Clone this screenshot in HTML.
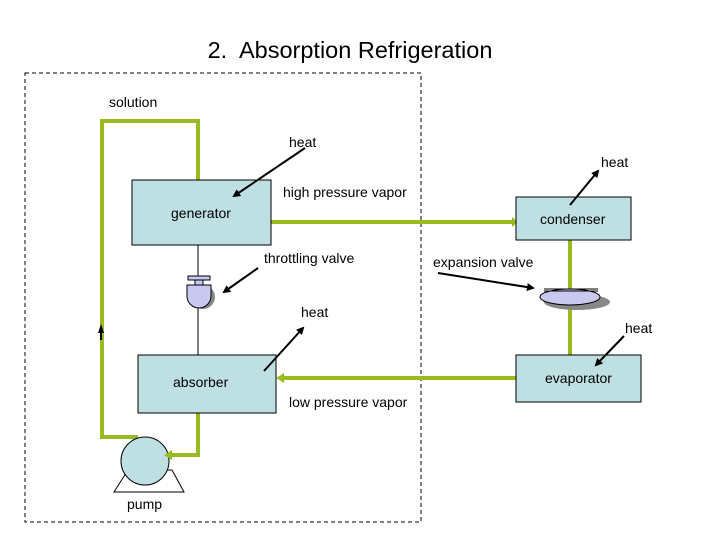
<!DOCTYPE html>
<html><head><style>
html,body{margin:0;padding:0;background:#fff;}
svg{display:block;}
text{font-family:"Liberation Sans",sans-serif;font-size:14px;fill:#000;}
</style></head><body>
<svg width="720" height="540" viewBox="0 0 720 540" xmlns="http://www.w3.org/2000/svg">
<defs>
<marker id="ah" markerWidth="8" markerHeight="8" refX="6" refY="4" orient="auto" markerUnits="userSpaceOnUse">
<path d="M0,0 L8,4 L0,8 z" fill="#000"/></marker>
</defs>
<text x="350" y="58" text-anchor="middle" style="font-size:23.5px">2.&#160; Absorption Refrigeration</text>
<rect x="25" y="73" width="396" height="449" fill="none" stroke="#000" stroke-dasharray="4,3" stroke-width="1"/>
<g stroke="#99bb22" stroke-width="4" fill="none">
<polyline points="198,182 198,121 102,121 102,437 138,437"/>
<line x1="271" y1="222" x2="512" y2="222"/>
<line x1="570" y1="240" x2="570" y2="355"/>
<line x1="516" y1="378" x2="282" y2="378"/>
<polyline points="198,413 198,455 168,455"/>
</g>
<path d="M512,217 L518,222 L512,227z" fill="#99bb22"/>
<path d="M276,378 L284,373 L284,383z" fill="#99bb22"/>
<line x1="198" y1="245" x2="198" y2="355" stroke="#000"/>
<path d="M101,324 L98,333 L104,333z" fill="#000"/>
<line x1="101" y1="333" x2="101" y2="340" stroke="#000" stroke-width="2"/>
<rect x="132" y="180" width="139" height="65" fill="#bfe0e3" stroke="#000"/>
<rect x="516" y="197" width="115" height="43" fill="#bfe0e3" stroke="#000"/>
<rect x="138" y="355" width="138" height="58" fill="#bfe0e3" stroke="#000"/>
<rect x="516" y="355" width="125" height="47" fill="#bfe0e3" stroke="#000"/>
<text x="171" y="218">generator</text>
<text x="540" y="224">condenser</text>
<text x="173" y="387">absorber</text>
<text x="545" y="383">evaporator</text>
<path d="M114,492 L128,470 L172,470 L184,492 z" fill="#fff" stroke="#000"/>
<circle cx="145" cy="461" r="24" fill="#bfe0e3" stroke="#000"/>
<path d="M164,455 L172,450 L172,460z" fill="#99bb22"/>
<text x="127" y="509">pump</text>
<ellipse cx="203" cy="297" rx="12" ry="12" fill="#888"/>
<path d="M187,285 L211,285 L211,296 A12,12 0 0 1 187,296 z" fill="#c8c8f0" stroke="#000"/>
<rect x="195" y="280" width="8" height="5" fill="#c8c8f0" stroke="#000"/>
<rect x="188" y="276" width="22" height="4" fill="#c8c8f0" stroke="#000"/>
<ellipse cx="577" cy="302" rx="33" ry="8" fill="#888"/>
<ellipse cx="570" cy="297" rx="30" ry="8" fill="#c8c8f0" stroke="#000"/>
<line x1="544" y1="289" x2="598" y2="289" stroke="#000"/>
<line x1="544" y1="291" x2="598" y2="291" stroke="#000"/>
<g stroke="#000" stroke-width="2" fill="none">
<line x1="305" y1="148" x2="234" y2="196" marker-end="url(#ah)"/>
<line x1="570" y1="205" x2="598" y2="171" marker-end="url(#ah)"/>
<line x1="258" y1="268" x2="224" y2="292" marker-end="url(#ah)"/>
<line x1="438" y1="273" x2="533" y2="288" marker-end="url(#ah)"/>
<line x1="264" y1="371" x2="303" y2="328" marker-end="url(#ah)"/>
<line x1="624" y1="336" x2="596" y2="365" marker-end="url(#ah)"/>
</g>
<text x="109" y="107">solution</text>
<text x="289" y="147">heat</text>
<text x="601" y="167">heat</text>
<text x="283" y="197">high pressure vapor</text>
<text x="264" y="263">throttling valve</text>
<text x="433" y="267">expansion valve</text>
<text x="301" y="317">heat</text>
<text x="625" y="333">heat</text>
<text x="289" y="407">low pressure vapor</text>
</svg>
</body></html>
